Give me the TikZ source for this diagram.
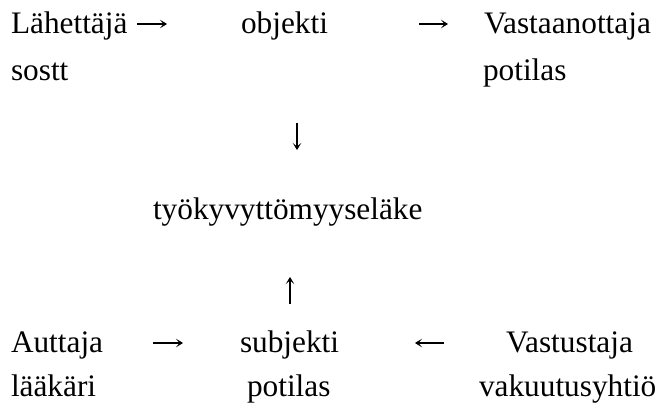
\documentclass[tikz,border=0pt]{standalone}
\usepackage{fontspec}
\setmainfont{Liberation Serif}
\usetikzlibrary{arrows.meta}
\begin{document}
\begin{tikzpicture}[x=1pt,y=-1pt,
  lbl/.style={anchor=base west,inner sep=0pt,outer sep=0pt,font=\fontsize{31.3}{36}\selectfont},
  txtarrow/.style={line width=1.1pt,-{Stealth[length=7pt,width=8.5pt,inset=3.5pt]}}]
\useasboundingbox (0,0) rectangle (662,415);
\node[lbl] (lah) at (11,33) {Lähettäjä};
\node[lbl] (obj) at (241,33) {objekti};
\node[lbl] (vas) at (484,33) {Vastaanottaja};
\node[lbl] (sostt) at (11,80) {sostt};
\node[lbl] (pot1) at (483,80) {potilas};
\node[lbl] (tyo) at (153,219) {työkyvyttömyyseläke};
\node[lbl] (aut) at (11,352) {Auttaja};
\node[lbl] (sub) at (240,352) {subjekti};
\node[lbl] (vst) at (506,352) {Vastustaja};
\node[lbl] (laak) at (11,396) {lääkäri};
\node[lbl] (pot2) at (247,396) {potilas};
\node[lbl] (vak) at (479,396) {vakuutusyhtiö};
% arrow end points
\coordinate (a1s) at (137,24); \coordinate (a1e) at (167,24);
\coordinate (a2s) at (419,24); \coordinate (a2e) at (448,24);
\coordinate (ds) at (297,123); \coordinate (de) at (297,150);
\coordinate (us) at (290,304); \coordinate (ue) at (290,277);
\coordinate (a3s) at (153,343); \coordinate (a3e) at (183,343);
\coordinate (a4s) at (444,343); \coordinate (a4e) at (415,343);
\draw[txtarrow] (a1s) -- (a1e);
\draw[txtarrow] (a2s) -- (a2e);
\draw[txtarrow] (ds) -- (de);
\draw[txtarrow] (us) -- (ue);
\draw[txtarrow] (a3s) -- (a3e);
\draw[txtarrow] (a4s) -- (a4e);
\end{tikzpicture}
\end{document}
